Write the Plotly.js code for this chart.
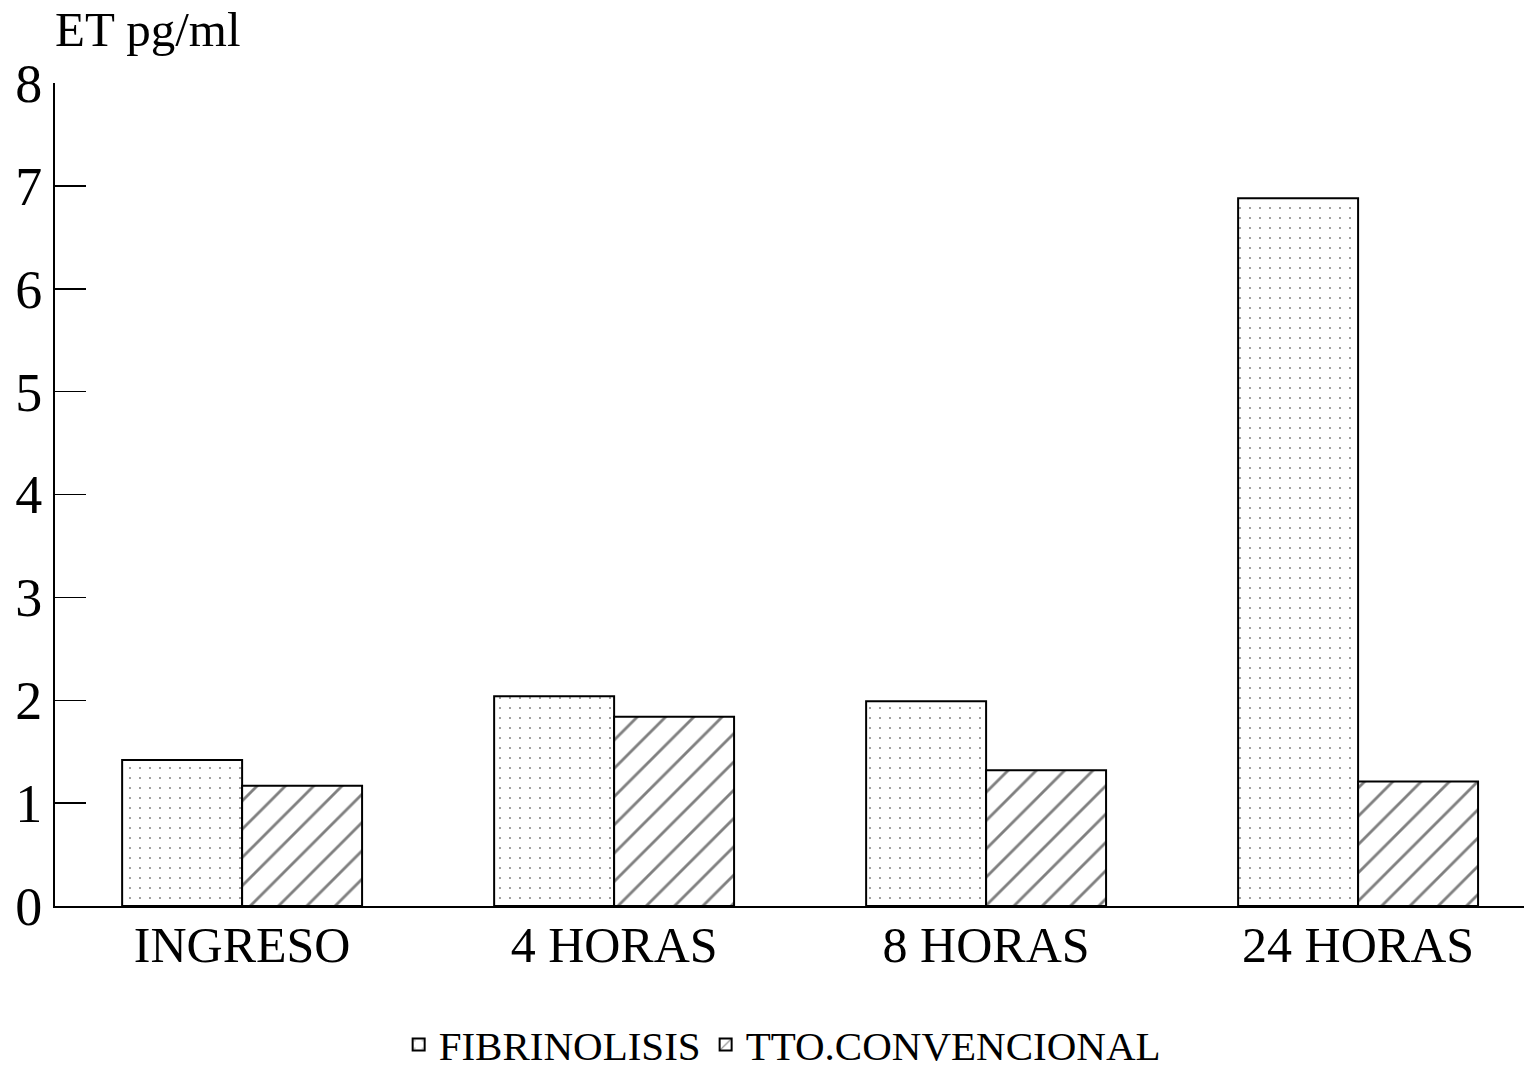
<!DOCTYPE html>
<html>
<head>
<meta charset="utf-8">
<script src="https://cdn.plot.ly/plotly-3.0.1.min.js"></script>
<style>html,body{margin:0;padding:0;background:#fff;}#chart{width:1524px;height:1078px;}</style>
</head>
<body>
<div id="chart"></div>
<script>
const categories = ["INGRESO", "4 HORAS", "8 HORAS", "24 HORAS"];
const fibrinolisis = [1.42, 2.04, 1.99, 6.88];
const convencional = [1.17, 1.84, 1.32, 1.21];
const seriesNames = ["FIBRINOLISIS", "TTO.CONVENCIONAL"];
const yTicks = [0, 1, 2, 3, 4, 5, 6, 7, 8];

const serif = "Liberation Serif, Times New Roman, serif";

const traces = [
  {
    type: "bar", name: seriesNames[0], x: categories, y: fibrinolisis,
    marker: {color: "#ffffff", line: {color: "#000", width: 2},
      pattern: {shape: ".", fgcolor: "#000", bgcolor: "#fff", size: 10, solidity: 0.03, fillmode: "overlay"}}
  },
  {
    type: "bar", name: seriesNames[1], x: categories, y: convencional,
    marker: {color: "#ffffff", line: {color: "#000", width: 2},
      pattern: {shape: "/", fgcolor: "#000", bgcolor: "#fff", size: 20, solidity: 0.14, fillmode: "overlay"}}
  }
];

const layout = {
  width: 1524, height: 1078,
  paper_bgcolor: "#fff", plot_bgcolor: "#fff",
  margin: {l: 55, r: 0, t: 83, b: 172, autoexpand: false},
  barmode: "group", bargap: 0.355, bargroupgap: 0,
  showlegend: true,
  legend: {orientation: "h", x: 0.495, xanchor: "center", y: -0.128, yanchor: "top",
    font: {family: serif, size: 41, color: "#000"}, tracegroupgap: 0},
  xaxis: {
    type: "category", range: [-0.503, 3.446],
    showline: true, linecolor: "#000", linewidth: 2,
    ticks: "", showgrid: false, zeroline: false,
    tickfont: {family: serif, size: 50, color: "#000"}, ticklabelstandoff: -6
  },
  yaxis: {
    range: [0, 8], tickvals: yTicks, ticktext: yTicks.map(String),
    showline: true, linecolor: "#000", linewidth: 2,
    ticks: "inside", ticklen: 31, tickwidth: 1.5, tickcolor: "#000",
    showgrid: false, zeroline: false,
    tickfont: {family: serif, size: 54, color: "#000"}, ticklabelstandoff: 0
  },
  annotations: [{
    text: "ET pg/ml", xref: "paper", yref: "paper", x: 0, y: 1, xshift: -2, yshift: 24,
    xanchor: "left", yanchor: "bottom", showarrow: false,
    font: {family: serif, size: 49, color: "#000"}
  }]
};

Plotly.newPlot("chart", traces, layout, {displayModeBar: false, staticPlot: true});
</script>
</body>
</html>
